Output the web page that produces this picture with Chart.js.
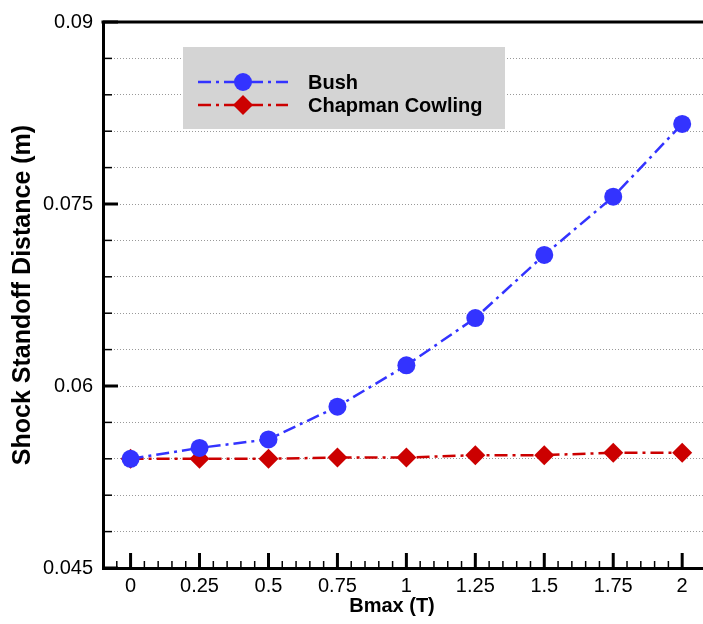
<!DOCTYPE html>
<html>
<head>
<meta charset="utf-8">
<script src="https://cdn.jsdelivr.net/npm/chart.js@4.4.1/dist/chart.umd.min.js"></script>
<style>
  html, body { margin: 0; padding: 0; background: #fff; }
  canvas { display: block; }
</style>
</head>
<body>
<canvas id="grafico" width="703" height="624"></canvas>
<script>
// Bmax (T) e distância de afastamento do choque (m)
const bmax = [0, 0.25, 0.5, 0.75, 1, 1.25, 1.5, 1.75, 2];
const bush = [0.054, 0.0549, 0.0556, 0.0583, 0.0617, 0.0656, 0.0708, 0.0756, 0.0816];
const chapmanCowling = [0.054, 0.054, 0.054, 0.0541, 0.0541, 0.0543, 0.0543, 0.0545, 0.0545];
const xLabels = [0, 0.25, 0.5, 0.75, 1, 1.25, 1.5, 1.75, 2];
const yLabels = [0.045, 0.06, 0.075, 0.09];

const AZUL = '#3333ff';
const VERMELHO = '#cc0000';
const TRACO = [13, 5, 3, 5];
const FONTE = '"Liberation Sans", Arial, sans-serif';

const near = (v, list) => list.some(l => Math.abs(v - l) < 1e-6);
const multiplo = (v, step) => Math.abs(v / step - Math.round(v / step)) < 1e-6;

// ticks para dentro, borda superior e título do eixo x
const ticksInternos = {
  id: 'ticksInternos',
  afterDraw(chart) {
    const { ctx, chartArea: a, scales: { x, y } } = chart;
    ctx.save();
    ctx.strokeStyle = '#000';
    x.ticks.forEach(t => {
      if (!multiplo(t.value, 0.05)) return;
      const px = x.getPixelForValue(t.value);
      const major = near(t.value, xLabels);
      ctx.lineWidth = major ? 3 : 1.5;
      ctx.beginPath();
      ctx.moveTo(px, a.bottom);
      ctx.lineTo(px, a.bottom - (major ? 15 : 7));
      ctx.stroke();
    });
    y.ticks.forEach(t => {
      const py = y.getPixelForValue(t.value);
      const major = near(t.value, yLabels);
      ctx.lineWidth = major ? 3 : 1.5;
      ctx.beginPath();
      ctx.moveTo(a.left, py);
      ctx.lineTo(a.left + (major ? 15 : 9), py);
      ctx.stroke();
    });
    ctx.lineWidth = 3;
    ctx.beginPath();
    ctx.moveTo(a.left - 1.5, a.top);
    ctx.lineTo(a.right, a.top);
    ctx.stroke();

    ctx.fillStyle = '#000';
    ctx.font = 'bold 20px ' + FONTE;
    ctx.textAlign = 'center';
    ctx.textBaseline = 'middle';
    ctx.fillText('Bmax (T)', 392, 606);
    ctx.restore();
  }
};

function desenhaMarcador(ctx, tipo, x, y, r, cor) {
  ctx.fillStyle = cor;
  ctx.beginPath();
  if (tipo === 'circle') {
    ctx.arc(x, y, r, 0, Math.PI * 2);
  } else {
    ctx.moveTo(x, y - r);
    ctx.lineTo(x + r, y);
    ctx.lineTo(x, y + r);
    ctx.lineTo(x - r, y);
    ctx.closePath();
  }
  ctx.fill();
}

// legenda dentro do gráfico, caixa cinza
const legendaCaixa = {
  id: 'legendaCaixa',
  beforeDatasetsDraw(chart) {
    const { ctx } = chart;
    ctx.save();
    ctx.fillStyle = '#d4d4d4';
    ctx.fillRect(183, 47, 322, 82);
    chart.data.datasets.forEach(ds => {
      const yy = [82, 105][ds.order];
      ctx.strokeStyle = ds.borderColor;
      ctx.lineWidth = 2.5;
      ctx.setLineDash(TRACO);
      ctx.beginPath();
      ctx.moveTo(198, yy);
      ctx.lineTo(288, yy);
      ctx.stroke();
      ctx.setLineDash([]);
      desenhaMarcador(ctx, ds.pointStyle, 243, yy, ds.pointRadius, ds.backgroundColor);
      ctx.fillStyle = '#000';
      ctx.font = 'bold 20px ' + FONTE;
      ctx.textBaseline = 'middle';
      ctx.fillText(ds.label, 308, yy + 1);
    });
    ctx.restore();
  }
};

new Chart(document.getElementById('grafico'), {
  type: 'line',
  data: {
    datasets: [
      {
        label: 'Bush',
        order: 0,
        data: bmax.map((b, i) => ({ x: b, y: bush[i] })),
        borderColor: AZUL,
        backgroundColor: AZUL,
        borderWidth: 2.5,
        borderDash: TRACO,
        pointStyle: 'circle',
        pointRadius: 9,
        pointBorderWidth: 0,
        tension: 0
      },
      {
        label: 'Chapman Cowling',
        order: 1,
        data: bmax.map((b, i) => ({ x: b, y: chapmanCowling[i] })),
        borderColor: VERMELHO,
        backgroundColor: VERMELHO,
        borderWidth: 2.5,
        borderDash: TRACO,
        pointStyle: 'rectRot',
        pointRadius: 10,
        pointBorderWidth: 0,
        tension: 0
      }
    ]
  },
  options: {
    responsive: false,
    animation: false,
    devicePixelRatio: 1,
    layout: { autoPadding: false, padding: { top: 14, right: 0, left: 0, bottom: 0 } },
    plugins: { legend: { display: false }, tooltip: { enabled: false } },
    scales: {
      x: {
        type: 'linear',
        min: -0.1,
        max: 2.0755,
        afterFit: s => { s.height = 56; s.paddingLeft = 0; s.paddingRight = 0; },
        grid: { display: false, drawTicks: false },
        border: { display: true, color: '#000', width: 3 },
        ticks: {
          stepSize: 0.05,
          autoSkip: false,
          maxRotation: 0,
          padding: 6,
          color: '#000',
          font: { family: FONTE, size: 20 },
          callback: v => near(v, xLabels) ? String(Math.round(v * 100) / 100) : ''
        },
        title: { display: false }
      },
      y: {
        type: 'linear',
        min: 0.045,
        max: 0.09,
        afterFit: s => { s.width = 103; },
        grid: { color: '#999', lineWidth: 1, drawTicks: false },
        border: { display: true, color: '#000', width: 3, dash: [1, 2] },
        ticks: {
          stepSize: 0.003,
          autoSkip: false,
          padding: 10,
          color: '#000',
          font: { family: FONTE, size: 20 },
          callback: v => near(v, yLabels) ? String(Math.round(v * 1000) / 1000) : ''
        },
        title: {
          display: true,
          text: 'Shock Standoff Distance (m)',
          color: '#000',
          font: { family: FONTE, size: 25, weight: 'bold' },
          padding: { top: 8, bottom: 0 }
        }
      }
    }
  },
  plugins: [ticksInternos, legendaCaixa]
});
</script>
</body>
</html>
